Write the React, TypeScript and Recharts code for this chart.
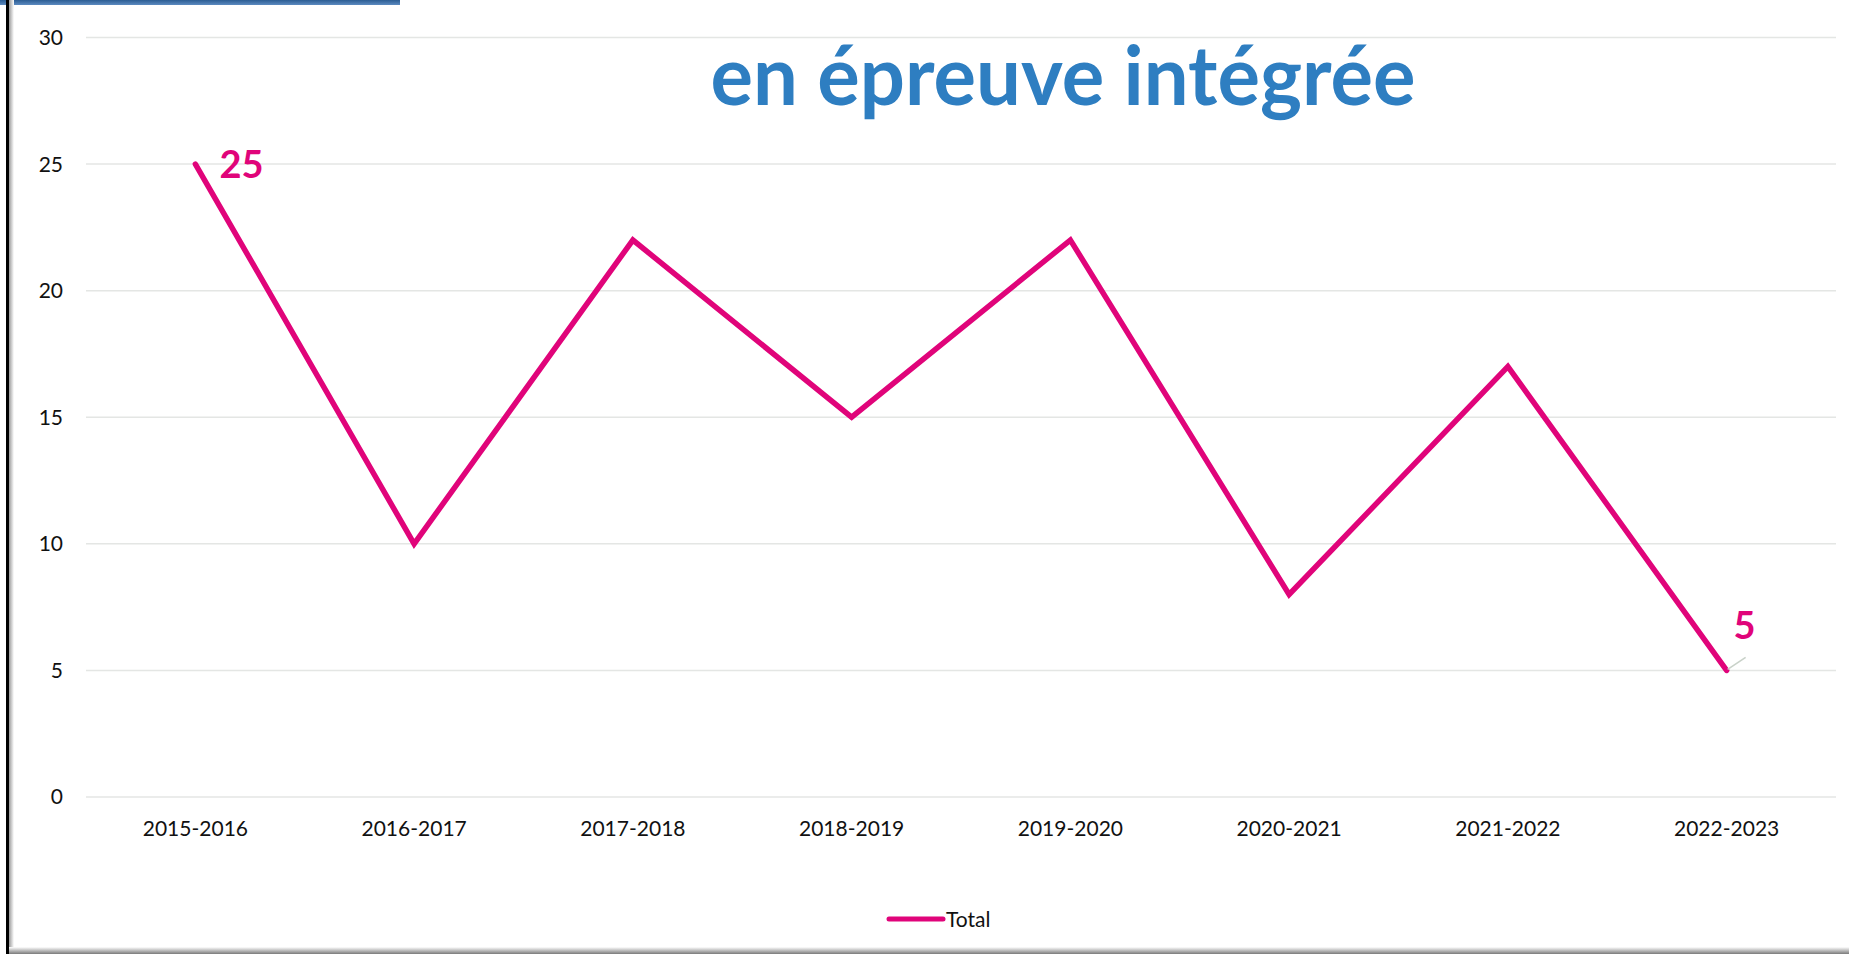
import React from 'react';
import { LineChart, Line, XAxis, YAxis, CartesianGrid, Legend } from 'recharts';

const categories = ['2015-2016', '2016-2017', '2017-2018', '2018-2019', '2019-2020', '2020-2021', '2021-2022', '2022-2023'];
const totals = [25, 10, 22, 15, 22, 8, 17, 5];
const yTicks = [0, 5, 10, 15, 20, 25, 30];
const labelledCategories = ['2015-2016', '2022-2023'];
const seriesName = 'Total';
const titleText = 'en épreuve intégrée';

const data = categories.map((c, i) => ({ year: c, total: totals[i] }));

const LINE_COLOR = '#E0047A';
const FONT = 'Lato, "Open Sans", sans-serif';

const renderLabel = (props: any) => {
  const { x, y, index } = props;
  const cat = categories[index];
  if (!labelledCategories.includes(cat)) return null;
  const isLast = index === categories.length - 1;
  if (isLast) {
    return (
      <g key={`lbl-${index}`}>
        <line x1={x + 1} y1={y - 1} x2={x + 19} y2={y - 13} stroke="#c9d2c9" strokeWidth={1.5} />
        <text x={x + 18} y={y - 45} dy="0.36em" textAnchor="middle" fill={LINE_COLOR} fontFamily={FONT} fontWeight={700} fontSize={38}>
          {totals[index]}
        </text>
      </g>
    );
  }
  return (
    <text key={`lbl-${index}`} x={x + 24} y={y} dy="0.36em" textAnchor="start" fill={LINE_COLOR} fontFamily={FONT} fontWeight={700} fontSize={38}>
      {totals[index]}
    </text>
  );
};

const renderLegend = () => (
  <div style={{ display: 'flex', alignItems: 'center', fontFamily: FONT, fontSize: 21, color: '#111' }}>
    <svg width={60} height={12} style={{ display: 'block' }}>
      <line x1={3} y1={6} x2={57} y2={6} stroke={LINE_COLOR} strokeWidth={5} strokeLinecap="round" />
    </svg>
    <span style={{ marginLeft: 0, lineHeight: '24px' }}>{seriesName}</span>
  </div>
);

export default function App() {
  return (
    <div style={{ position: 'absolute', left: 0, top: 0, width: 1849, height: 954, background: '#fff', overflow: 'hidden' }}>
      <LineChart width={1849} height={954} data={data} margin={{ top: 37.5, right: 13, bottom: 97, left: 26 }}>
        <CartesianGrid horizontal vertical={false} stroke="#e4e6e4" strokeWidth={1.5} />
        <XAxis
          dataKey="year"
          axisLine={false}
          tickLine={false}
          tickSize={0}
          tickMargin={24}
          height={60}
          padding={{ left: 109.375, right: 109.375 }}
          interval={0}
          tick={{ fill: '#111', fontFamily: FONT, fontSize: 21 }}
        />
        <YAxis
          domain={[0, 30]}
          ticks={yTicks}
          width={60}
          axisLine={false}
          tickLine={false}
          tickSize={0}
          tickMargin={23}
          tick={{ fill: '#111', fontFamily: FONT, fontSize: 21 }}
        />
        <Legend
          layout="horizontal"
          verticalAlign="middle"
          align="center"
          content={renderLegend}
          wrapperStyle={{ position: 'absolute', left: 886, top: 907, width: 'auto' }}
        />
        <Line
          type="linear"
          dataKey="total"
          name={seriesName}
          stroke={LINE_COLOR}
          strokeWidth={5.5}
          strokeLinecap="round"
          strokeLinejoin="miter"
          dot={false}
          activeDot={false}
          label={renderLabel}
          isAnimationActive={false}
        />
      </LineChart>
      <svg width={1849} height={140} style={{ position: 'absolute', left: 0, top: 0, pointerEvents: 'none' }}>
        <text x={1063} y={105} textAnchor="middle" fill="#2E7EC1" fontFamily={FONT} fontWeight={700} fontSize={82} textLength={705} lengthAdjust="spacingAndGlyphs">
          {titleText}
        </text>
      </svg>
      <div style={{ position: 'absolute', left: 0, top: 0, width: 400, height: 5, background: 'linear-gradient(#2c5d93, #5b8ac0)' }} />
      <div style={{ position: 'absolute', left: 6, top: 0, width: 3, height: 954, background: '#000' }} />
      <div style={{ position: 'absolute', left: 9, top: 0, width: 5, height: 948, background: 'linear-gradient(to right, #9a9a9a, #fff)' }} />
      <div style={{ position: 'absolute', left: 9, top: 947, width: 1840, height: 7, background: 'linear-gradient(#fff, #7a7a7a)' }} />
    </div>
  );
}
